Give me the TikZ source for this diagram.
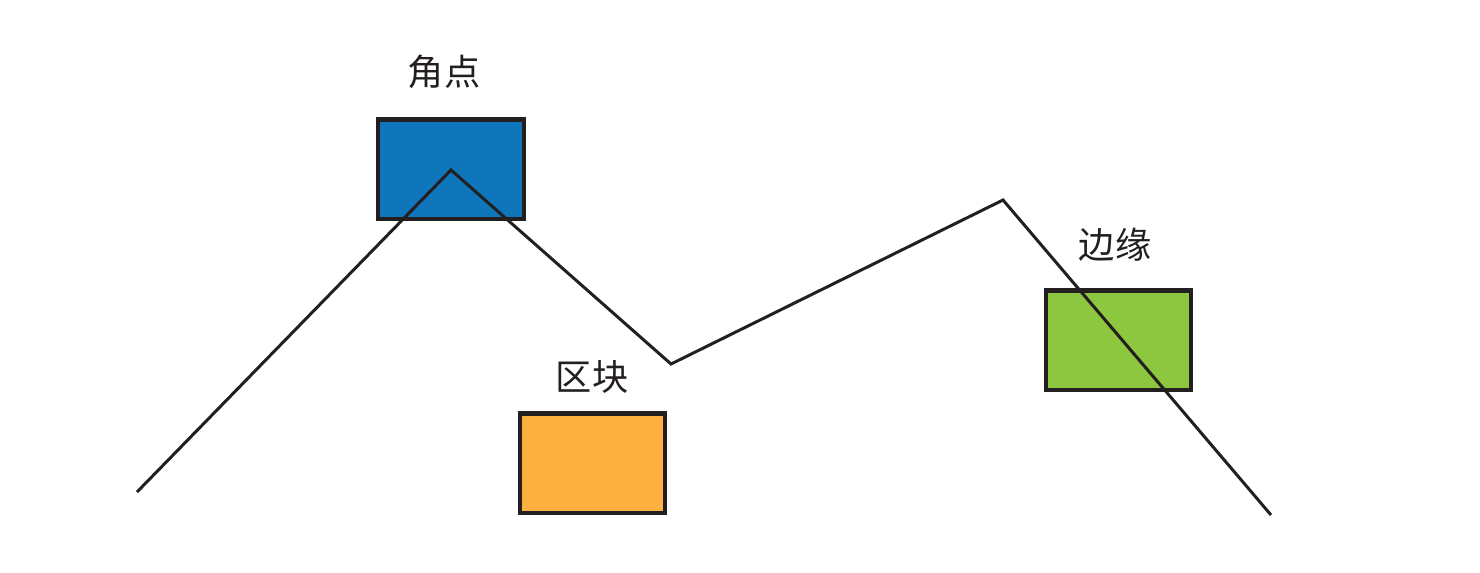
\documentclass[tikz,border=0pt]{standalone}
\usepackage{fontspec}
\newfontfamily\cjk{Noto Sans CJK SC}[Scale=1]
\usetikzlibrary{positioning}
\definecolor{cornerblue}{RGB}{16,118,187}
\definecolor{blockorange}{RGB}{251,176,64}
\definecolor{edgegreen}{RGB}{141,198,63}
\definecolor{inkline}{RGB}{35,31,32}
\tikzset{
  patch/.style={draw=inkline, line width=1.15pt, minimum width=1.45cm, minimum height=0.99cm, inner sep=0pt},
  lbl/.style={font=\cjk\fontsize{10.3pt}{12pt}\selectfont, text=inkline, inner sep=0pt}
}

\begin{document}
\begin{tikzpicture}[x=0.01cm, y=-0.01cm]
        \useasboundingbox (0,0) rectangle (1480,572);
        % patches
        \node[patch, fill=cornerblue] (corner) at (451,169) {};
        \node[patch, fill=blockorange] (block) at (592.5,463) {};
        \node[patch, fill=edgegreen] (edge) at (1118.5,340) {};
        \node[lbl] (cornerlbl) at (444,72) {角点};
        \node[lbl] (blocklbl) at (592,377) {区块};
        \node[lbl] (edgelbl) at (1115,245) {边缘};
        % curve
        \coordinate (p1) at (137,492);
        \coordinate (p2) at (451,170);
        \coordinate (p3) at (671,364);
        \coordinate (p4) at (1003,200);
        \coordinate (p5) at (1271,515);
        \draw[inkline, line width=0.85pt] (p1) -- (p2) -- (p3) -- (p4) -- (p5);
      \end{tikzpicture}
\end{document}
